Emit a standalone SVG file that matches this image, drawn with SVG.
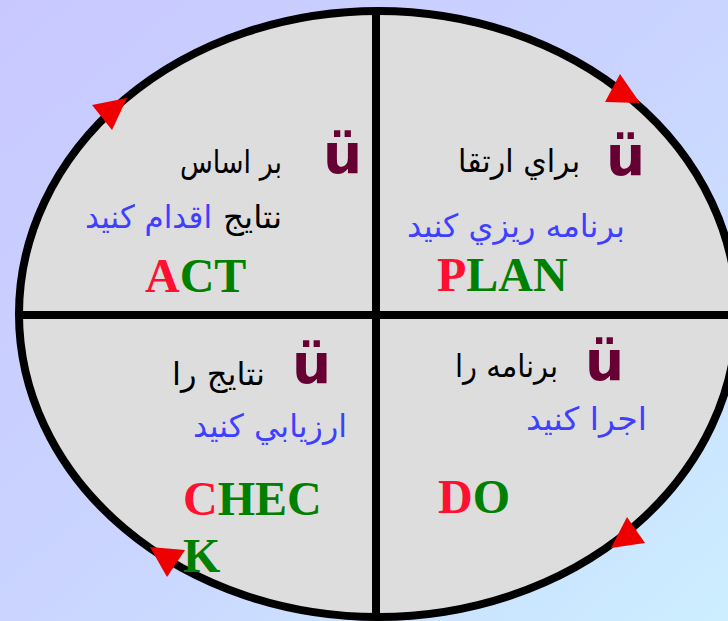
<svg xmlns="http://www.w3.org/2000/svg" width="728" height="621" viewBox="0 0 728 621">
<defs>
<linearGradient id="bg" x1="0" y1="0" x2="1" y2="1">
<stop offset="0" stop-color="#c8c8ff"/>
<stop offset="0.5" stop-color="#cad4ff"/>
<stop offset="1" stop-color="#cceeff"/>
</linearGradient>
<clipPath id="ell"><ellipse cx="378" cy="314" rx="359" ry="303"/></clipPath>
</defs>
<style>
.chk{font-family:"DejaVu Sans",sans-serif;font-weight:bold;font-size:55px;fill:#660033}
.fa{font-family:"DejaVu Sans",sans-serif;font-size:32px}
.blk{fill:#000}
.blu{fill:#3f3fff}
.big{font-family:"Liberation Serif","Times New Roman",serif;font-weight:bold;font-size:48px}
.r{fill:#ff1030}
.g{fill:#008000}
.arr{fill:#ee0000}
</style>
<rect width="728" height="621" fill="url(#bg)"/>
<g id="cycle">
<ellipse cx="378" cy="314" rx="359" ry="303" fill="#dddddd" stroke="#000" stroke-width="8"/>
</g>
<g id="connectors" clip-path="url(#ell)">
<line x1="376" y1="0" x2="376" y2="621" stroke="#000" stroke-width="8"/>
<line x1="0" y1="315" x2="728" y2="315" stroke="#000" stroke-width="8"/>
</g>
<g id="arrows">
<polygon class="arr" points="620,74 605,102 640,103"/>
<polygon class="arr" points="627,517 611,548 645,543"/>
<polygon class="arr" points="150,547 185,550 167,577"/>
<polygon class="arr" points="92,105 127,98 112,130"/>
</g>
<g id="plan">
<text class="chk" x="606" y="175">ü</text>
<text class="fa blk" x="458" y="172" textLength="122" lengthAdjust="spacingAndGlyphs">براي ارتقا</text>
<text class="fa blu" x="407" y="237" textLength="218" lengthAdjust="spacingAndGlyphs">برنامه ريزي كنيد</text>
<text class="big" x="437" y="291"><tspan class="r">P</tspan><tspan class="g">LAN</tspan></text>
</g>
<g id="act">
<text class="chk" x="323" y="173">ü</text>
<text class="fa blk" x="180" y="173" textLength="102" lengthAdjust="spacingAndGlyphs">بر اساس</text>
<text class="fa blk" x="223" y="228" textLength="59" lengthAdjust="spacingAndGlyphs">نتايج</text>
<text class="fa blu" x="85" y="228" textLength="127" lengthAdjust="spacingAndGlyphs">اقدام كنيد</text>
<text class="big" x="145" y="292"><tspan class="r">A</tspan><tspan class="g">CT</tspan></text>
</g>
<g id="check">
<text class="chk" x="292" y="383">ü</text>
<text class="fa blk" x="172" y="385" textLength="93" lengthAdjust="spacingAndGlyphs">نتايج را</text>
<text class="fa blu" x="193" y="437" textLength="154" lengthAdjust="spacingAndGlyphs">ارزيابي كنيد</text>
<text class="big" x="183" y="515"><tspan class="r">C</tspan><tspan class="g">HEC</tspan></text>
<text class="big g" x="183" y="572">K</text>
</g>
<g id="do">
<text class="chk" x="585" y="380">ü</text>
<text class="fa blk" x="455" y="377" textLength="103" lengthAdjust="spacingAndGlyphs">برنامه را</text>
<text class="fa blu" x="526" y="430" textLength="121" lengthAdjust="spacingAndGlyphs">اجرا كنيد</text>
<text class="big" x="438" y="513"><tspan class="r">D</tspan><tspan class="g">O</tspan></text>
</g>
</svg>
